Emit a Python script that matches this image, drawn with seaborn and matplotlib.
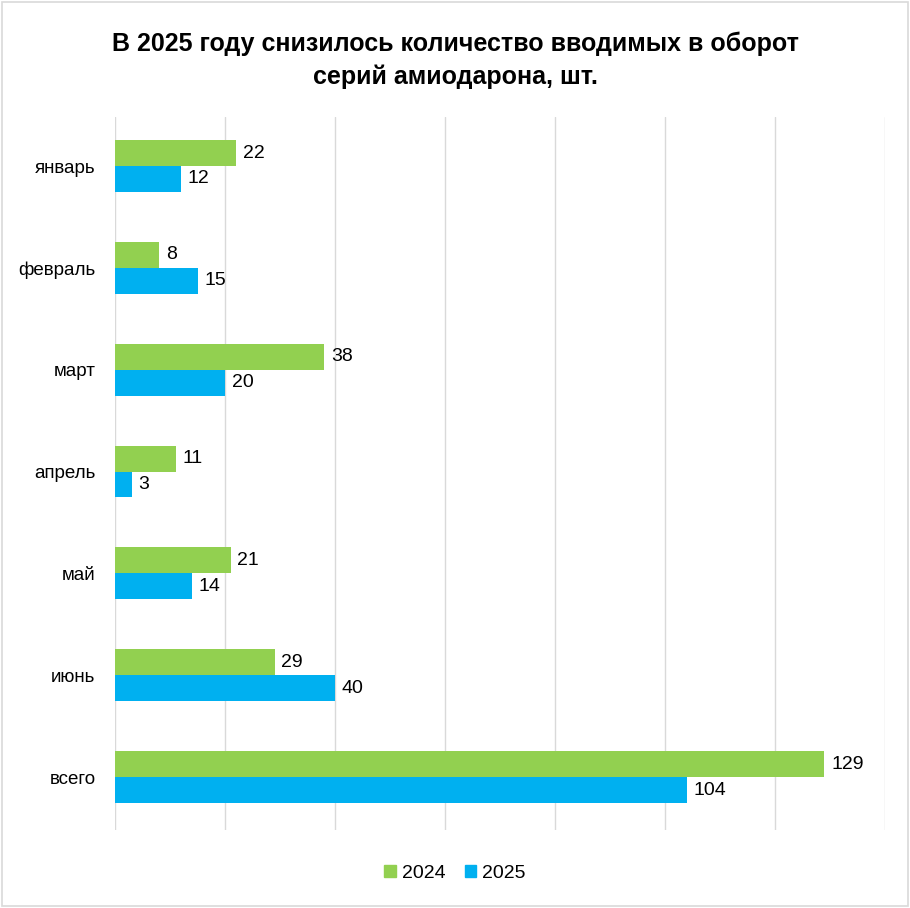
import matplotlib
matplotlib.use("Agg")
import matplotlib.pyplot as plt
import seaborn as sns
import pandas as pd
from matplotlib.patches import Rectangle

categories = ["январь", "февраль", "март", "апрель", "май", "июнь", "всего"]
values_2024 = [22, 8, 38, 11, 21, 29, 129]
values_2025 = [12, 15, 20, 3, 14, 40, 104]
series = ["2024", "2025"]
colors = ["#92D050", "#00B0F0"]
title = "В 2025 году снизилось количество вводимых в оборот\nсерий амиодарона, шт."

sns.set_style("white")
plt.rcParams["font.family"] = ["Liberation Sans Narrow", "Liberation Sans", "DejaVu Sans"]
plt.rcParams["text.color"] = "black"
plt.rcParams["ytick.color"] = "black"

df = pd.DataFrame({
    "month": categories * 2,
    "value": values_2024 + values_2025,
    "year": [series[0]] * len(categories) + [series[1]] * len(categories),
})

fig = plt.figure(figsize=(9.1, 9.08), dpi=100)
ax = fig.add_axes([0.1264, 0.0859, 0.8461, 0.7851])

sns.barplot(data=df, y="month", x="value", hue="year", order=categories,
            hue_order=series, palette=colors, width=0.51, orient="h",
            saturation=1, ax=ax, legend=False, edgecolor="none")

ax.set_xlim(0, 140)
ax.set_ylim(6.52, -0.48)
ax.set_xticks(range(0, 141, 20))
ax.xaxis.grid(True, color="#D9D9D9", linewidth=1)
ax.set_axisbelow(True)
ax.tick_params(axis="x", length=0, labelbottom=False)
ax.tick_params(axis="y", length=0, labelsize=13.5, pad=14, labelcolor="black")
for s in ax.spines.values():
    s.set_visible(False)
ax.set_xlabel("")
ax.set_ylabel("")

for cont in ax.containers:
    ax.bar_label(cont, padding=5, fontsize=14, color="black")

fig.text(0.5, 0.934, title, ha="center", va="center", fontsize=18,
         fontweight="bold", linespacing=1.42, color="black")

handles = [Rectangle((0, 0), 1, 1, color=c) for c in colors]
fig.legend(handles, series, loc="center", bbox_to_anchor=(0.5, 0.038), ncol=2,
           frameon=False, fontsize=14, handlelength=0.6, handleheight=0.6,
           handletextpad=0.3, columnspacing=1.0)

fig.add_artist(Rectangle((0.002, 0.002), 0.996, 0.996, transform=fig.transFigure,
                         fill=False, edgecolor="#D9D9D9", linewidth=1.2))

fig.savefig("out.png", dpi=100)
